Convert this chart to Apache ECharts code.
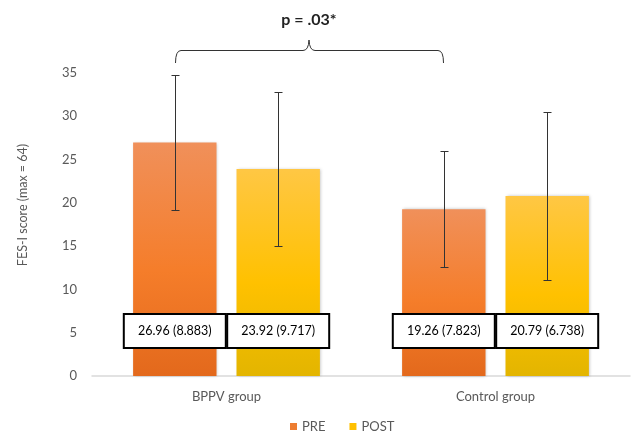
<!DOCTYPE html>
<html>
<head>
<meta charset="utf-8">
<script src="https://cdn.jsdelivr.net/npm/echarts@6/dist/echarts.min.js"></script>
<style>
html,body{margin:0;padding:0;background:#fff;}
#chart{width:632px;height:436px;}
</style>
</head>
<body>
<div id="chart"></div>
<script>
// ---- data ----
var categories = ['BPPV group', 'Control group'];
var seriesNames = ['PRE', 'POST'];
var preValues = [26.96, 19.26];
var postValues = [23.92, 20.79];
var preSD = [8.883, 7.823];
var postSD = [9.717, 6.738];
// error bar half-lengths as drawn in the picture
var preErr = [7.8, 6.7];
var postErr = [8.9, 9.7];
var yTicks = [0, 5, 10, 15, 20, 25, 30, 35];
var annotationText = 'p = .03*';
var yTitle = 'FES-I score (max = 64)';

var FONT = 'Lato, "Open Sans", sans-serif';
var BAR_W = 0.31;   // fraction of band
var BAR_GAP = 0.24; // fraction of bar width

function grad(stops) {
  return { type: 'linear', x: 0, y: 0, x2: 0, y2: 1, colorStops: stops };
}
var preColor = grad([{offset:0,color:'#F0905A'},{offset:0.55,color:'#F57D2A'},{offset:1,color:'#E3691C'}]);
var postColor = grad([{offset:0,color:'#FFC744'},{offset:0.55,color:'#FFC100'},{offset:1,color:'#E3B500'}]);

function labelFor(sds) {
  return {
    show: true,
    position: 'insideBottom',
    distance: 29,
    formatter: function (p) { return p.value.toFixed(2) + ' (' + sds[p.dataIndex].toFixed(3) + ')'; },
    color: '#000',
    fontFamily: FONT,
    fontSize: 12.5,
    backgroundColor: '#fff',
    borderColor: '#000',
    borderWidth: 2,
    width: 100,
    align: 'center',
    lineHeight: 14,
    padding: [9, 0]
  };
}

function errSeries(values, errs, sign) {
  return {
    type: 'custom',
    z: 5,
    silent: true,
    data: values.map(function (v, i) { return [i, v - errs[i], v + errs[i]]; }),
    renderItem: function (params, api) {
      var band = api.size([1, 0])[0];
      var bw = band * BAR_W;
      var off = sign * bw * (1 + BAR_GAP) / 2;
      var lo = api.coord([api.value(0), api.value(1)]);
      var hi = api.coord([api.value(0), api.value(2)]);
      var x = Math.round(lo[0] + off) + 0.5;
      var cap = 4;
      var st = { stroke: '#333', lineWidth: 1 };
      var ly = Math.round(lo[1]) + 0.5, hy = Math.round(hi[1]) + 0.5;
      return {
        type: 'group',
        children: [
          { type: 'line', shape: { x1: x, y1: ly, x2: x, y2: hy }, style: st },
          { type: 'line', shape: { x1: x - cap, y1: ly, x2: x + cap, y2: ly }, style: st },
          { type: 'line', shape: { x1: x - cap, y1: hy, x2: x + cap, y2: hy }, style: st }
        ]
      };
    }
  };
}

var braceStyle = { stroke: '#333', lineWidth: 1, fill: null };
var chart = echarts.init(document.getElementById('chart'));
chart.setOption({
  animation: false,
  backgroundColor: '#fff',
  textStyle: { fontFamily: FONT },
  grid: { left: 92, right: 2, top: 73, bottom: 60, containLabel: false },
  legend: {
    top: 420,
    left: 290,
    padding: 0,
    icon: 'rect',
    itemWidth: 7,
    itemHeight: 7,
    itemGap: 24,
    textStyle: { color: '#595959', fontSize: 13, fontFamily: FONT },
    data: [
      { name: seriesNames[0], itemStyle: { color: '#ED7D31' } },
      { name: seriesNames[1], itemStyle: { color: '#FFC000' } }
    ]
  },
  xAxis: {
    type: 'category',
    data: categories,
    axisLine: { lineStyle: { color: '#D9D9D9', width: 1.5 } },
    axisTick: { show: false },
    axisLabel: { color: '#595959', fontSize: 13, margin: 14, fontFamily: FONT }
  },
  yAxis: {
    type: 'value',
    min: yTicks[0],
    max: yTicks[yTicks.length - 1],
    interval: yTicks[1] - yTicks[0],
    axisLine: { show: false },
    axisTick: { show: false },
    splitLine: { show: false },
    axisLabel: { color: '#595959', fontSize: 13, margin: 15, fontFamily: FONT }
  },
  series: [
    {
      name: seriesNames[0], type: 'bar', data: preValues,
      barWidth: (BAR_W * 100) + '%', barGap: (BAR_GAP * 100) + '%',
      itemStyle: { color: preColor, shadowColor: 'rgba(0,0,0,0.25)', shadowBlur: 3, shadowOffsetX: 1 },
      label: labelFor(preSD), z: 2
    },
    {
      name: seriesNames[1], type: 'bar', data: postValues,
      barWidth: (BAR_W * 100) + '%',
      itemStyle: { color: postColor, shadowColor: 'rgba(0,0,0,0.25)', shadowBlur: 3, shadowOffsetX: 1 },
      label: labelFor(postSD), z: 2
    },
    errSeries(preValues, preErr, -1),
    errSeries(postValues, postErr, 1)
  ],
  graphic: [
    {
      type: 'text',
      x: 309, y: 20,
      style: { text: annotationText, fill: '#222', font: 'bold 16px ' + FONT, align: 'center', verticalAlign: 'middle' }
    },
    { type: 'bezierCurve', shape: { x1: 175.5, y1: 63, cpx1: 175.5, cpy1: 50.5, x2: 181, y2: 50.5 }, style: braceStyle },
    { type: 'line', shape: { x1: 181, y1: 50.5, x2: 303, y2: 50.5 }, style: braceStyle },
    { type: 'bezierCurve', shape: { x1: 303, y1: 50.5, cpx1: 308.5, cpy1: 50.5, x2: 309, y2: 40 }, style: braceStyle },
    { type: 'bezierCurve', shape: { x1: 309, y1: 40, cpx1: 309.5, cpy1: 50.5, x2: 315, y2: 50.5 }, style: braceStyle },
    { type: 'line', shape: { x1: 315, y1: 50.5, x2: 438, y2: 50.5 }, style: braceStyle },
    { type: 'bezierCurve', shape: { x1: 438, y1: 50.5, cpx1: 443.5, cpy1: 50.5, x2: 443.5, y2: 63 }, style: braceStyle },
    {
      type: 'text',
      rotation: Math.PI / 2,
      x: 23, y: 205,
      style: { text: yTitle, fill: '#595959', font: '12.5px ' + FONT, align: 'center', verticalAlign: 'middle' }
    }
  ]
});
</script>
</body>
</html>
